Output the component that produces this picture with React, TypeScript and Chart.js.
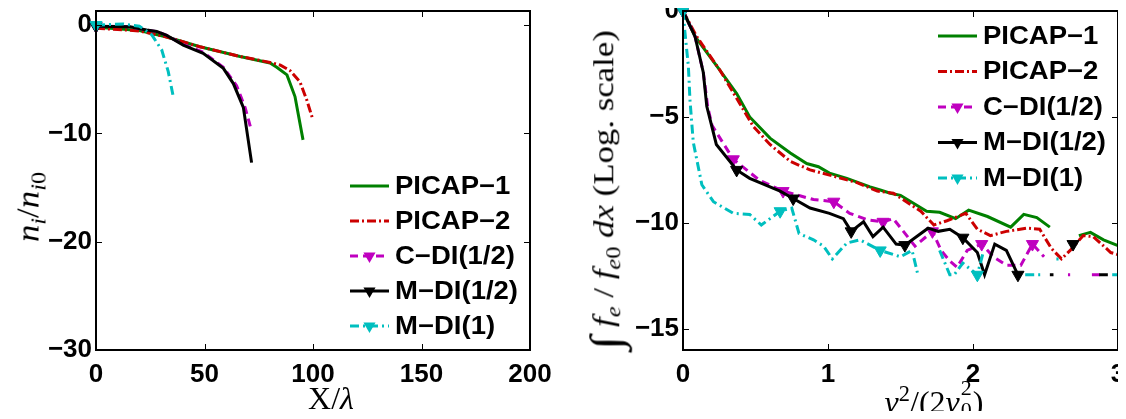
import React, { useEffect, useRef } from "react";
import { Chart, registerables } from "chart.js";
Chart.register(...registerables);

// ---------- series meta ----------
const SERIES_NAMES = ["PICAP\u22121", "PICAP\u22122", "C\u2212DI(1/2)", "M\u2212DI(1/2)", "M\u2212DI(1)"];
const SERIES_COLORS = ["#008000", "#cc0000", "#bf00bf", "#000000", "#00bfbf"];
const SERIES_DASH = [[], [9, 3, 2, 3], [8, 5], [], [9, 4, 2, 4]];
const SERIES_HAS_MARKER = [false, false, true, true, true];

// ---------- left panel: n_i/n_i0 vs X/lambda ----------
const L_X_TICKS = [0, 50, 100, 150, 200];
const L_Y_TICKS = [-30, -20, -10, 0];

const L1_X = [0, 10, 20, 32.6, 47.9, 66.4, 80.2, 83.3, 88, 91.7, 95.4];
const L1_Y = [-0.2, -0.35, -0.5, -1.1, -2.0, -2.9, -3.5, -3.9, -4.6, -6.6, -10.6];

const L2_X = [0, 10, 20, 32.6, 47.9, 66.4, 80.2, 85, 89.4, 94, 97.1, 99.9];
const L2_Y = [-0.3, -0.4, -0.55, -1.1, -2.0, -2.9, -3.45, -3.7, -4.2, -5.25, -6.9, -8.7];

const L3_X = [0, 15.7, 23.3, 28, 32.6, 40.2, 49.4, 58.7, 64.8, 68.7, 71.7];
const L3_Y = [-0.1, -0.15, -0.45, -0.6, -0.95, -1.8, -2.5, -3.9, -5.6, -7.6, -9.8];
const L3_MARK = [0];

const L4_X = [0, 15.7, 23.3, 28, 32.6, 40.2, 49.4, 58.7, 63.3, 67.9, 71.7];
const L4_Y = [-0.1, -0.15, -0.45, -0.6, -0.95, -1.85, -2.6, -4.0, -5.4, -7.6, -12.7];
const L4_MARK = [0];

const L5_X = [0, 12.5, 20, 25.7, 30.3, 33.3, 35.6];
const L5_Y = [0, 0.1, -0.1, -0.9, -2.3, -4.3, -6.6];
const L5_MARK = [0];

// ---------- right panel: int f_e/f_e0 dx (log) vs v^2/(2v0^2) ----------
const R_X_TICKS = [0, 1, 2, 3];
const R_Y_TICKS = [-15, -10, -5, 0];

const R1_X = [0, 0.083, 0.255, 0.37, 0.46, 0.6, 0.74, 0.853, 0.934, 1.01, 1.13, 1.29, 1.36, 1.43, 1.5, 1.68, 1.77, 1.88, 1.97, 2.1, 2.26, 2.35, 2.44, 2.53, 2.63, 2.73, 2.81, 2.9, 3.0];
const R1_Y = [0, -1.2, -2.8, -3.9, -5.0, -6.0, -6.7, -7.2, -7.35, -7.65, -7.9, -8.3, -8.45, -8.6, -8.7, -9.45, -9.5, -9.8, -9.4, -9.7, -10.2, -9.6, -9.75, -10.2, null, -10.6, -10.45, -10.8, -11.07];

const R2_X = [0, 0.094, 0.255, 0.39, 0.485, 0.6, 0.74, 0.876, 1.04, 1.2, 1.34, 1.45, 1.54, 1.64, 1.73, 1.82, 1.95, 2.03, 2.12, 2.23, 2.37, 2.46, 2.54, 2.61, 2.67, 2.76, 2.83, 2.95, 3.0];
const R2_Y = [0, -1.2, -2.8, -4.35, -5.45, -6.3, -7.1, -7.5, -7.8, -8.1, -8.5, -8.6, -9.0, -9.45, -10.1, -9.9, -9.55, -10.3, -10.6, -10.4, -10.25, -10.3, -11.2, -11.7, -11.3, -10.6, -10.65, -11.4, -11.5];

const R3_X = [0, 0.083, 0.14, 0.17, 0.2, 0.347, 0.53, 0.69, 0.9, 1.04, 1.15, 1.27, 1.38, 1.45, 1.52, 1.6, 1.72, 1.78, 1.84, 1.89, 1.96, 2.06, 2.14, 2.23, 2.33, 2.41, 2.49, 2.57, 2.655, 2.67, 2.75, 2.82, 2.9];
const R3_Y = [0, -1.2, -2.9, -4.5, -5.4, -7.0, -8.0, -8.5, -8.9, -9.0, -9.55, -9.85, -9.95, -9.8, -10.4, -11.1, -10.4, -11.3, -11.8, -12.1, -11.3, -11.0, -11.6, -12.0, -12.0, -11.0, -11.6, null, -12.45, -12.45, null, -12.45, -12.45];
const R3_MARK = [0, 5, 7, 9, 12, 16, 21, 25];

const R4_X = [0, 0.083, 0.14, 0.164, 0.23, 0.37, 0.46, 0.67, 0.76, 0.876, 1.01, 1.106, 1.16, 1.245, 1.31, 1.38, 1.47, 1.53, 1.69, 1.76, 1.84, 1.93, 2.03, 2.08, 2.15, 2.23, 2.31, 2.42, 2.53, 2.555, 2.62, 2.69, 2.78, 2.87, 2.93];
const R4_Y = [0, -1.2, -2.9, -4.5, -6.3, -7.5, -7.9, -8.5, -8.85, -9.3, -9.55, -9.8, -10.4, -9.95, -10.65, -10.2, -11.0, -11.05, -10.25, -10.4, -10.3, -10.7, -11.4, -12.45, -11.0, -11.3, -12.45, null, -12.45, -12.45, null, -11.0, null, -12.45, -12.45];
const R4_MARK = [0, 5, 8, 12, 17, 21, 26, 31];

const R5_X = [0, 0.014, 0.037, 0.048, 0.071, 0.13, 0.21, 0.347, 0.46, 0.54, 0.67, 0.75, 0.8, 0.9, 0.97, 1.03, 1.13, 1.22, 1.36, 1.5, 1.58, 1.62, 1.7, 1.77, 1.84, 1.87, 1.93, 2.03, 2.07, 2.2, 2.36, 2.48, 2.53, 2.575, 2.59, 2.75, 2.96, 3.0];
const R5_Y = [0, -1.05, -2.6, -4.2, -6.2, -8.2, -9.0, -9.55, -9.6, -10.1, -9.45, -9.3, -10.5, -10.8, -11.1, -11.7, -10.95, -10.8, -11.3, -11.6, -11.3, -12.45, null, -11.3, -12.45, -12.45, -11.9, -12.45, -11.4, null, -12.45, -12.45, null, -11.7, -11.7, null, -12.45, -12.45];
const R5_MARK = [0, 10, 18, 27];

// ---------- helpers ----------
const minusFmt = (v: number) => (v < 0 ? "\u2212" + Math.abs(v) : String(v));
const TICK_FONT = { family: "'Liberation Sans', Arial, sans-serif", size: 26, weight: "bold" as const };

function makeDataset(i: number, xs: number[], ys: (number | null)[], marks: number[]) {
  return {
    label: SERIES_NAMES[i],
    data: xs.map((x, k) => ({ x, y: ys[k] })),
    borderColor: SERIES_COLORS[i],
    backgroundColor: SERIES_COLORS[i],
    borderWidth: 3,
    borderDash: SERIES_DASH[i],
    pointStyle: "triangle",
    pointRotation: 180,
    pointRadius: (c: any) => (marks.includes(c.dataIndex) ? 7 : 0),
    pointBackgroundColor: SERIES_COLORS[i],
    pointBorderColor: SERIES_COLORS[i],
    pointBorderWidth: 1,
    tension: 0,
    spanGaps: false,
    clip: false as const,
    order: 10 - i,
    hasMarker: SERIES_HAS_MARKER[i],
  };
}

const legendPlugin = {
  id: "inLegend",
  afterDraw(chart: any, _args: any, opts: any) {
    const { ctx } = chart;
    ctx.save();
    chart.data.datasets.forEach((d: any, i: number) => {
      const y = opts.y0 + i * opts.dy;
      ctx.beginPath();
      ctx.setLineDash(d.borderDash || []);
      ctx.strokeStyle = d.borderColor;
      ctx.lineWidth = d.borderWidth;
      ctx.moveTo(opts.x1, y);
      ctx.lineTo(opts.x2, y);
      ctx.stroke();
      ctx.setLineDash([]);
      if (d.hasMarker) {
        const cx = (opts.x1 + opts.x2) / 2;
        const r = 7;
        ctx.beginPath();
        ctx.moveTo(cx, y + r);
        ctx.lineTo(cx - r * 0.866, y - r / 2);
        ctx.lineTo(cx + r * 0.866, y - r / 2);
        ctx.closePath();
        ctx.fillStyle = d.borderColor;
        ctx.fill();
      }
      ctx.save();
      ctx.translate(opts.tx, y + 1);
      ctx.scale(1.1, 1);
      ctx.fillStyle = "#000";
      ctx.font = "bold 25px 'Liberation Sans', Arial, sans-serif";
      ctx.textBaseline = "middle";
      ctx.textAlign = "left";
      ctx.fillText(d.label, 0, 0);
      ctx.restore();
    });
    ctx.restore();
  },
};

// axes box + inward ticks on all four sides, drawn last
const boxPlugin = {
  id: "axesBox",
  afterDraw(chart: any) {
    const { ctx, chartArea: a, scales } = chart;
    ctx.save();
    ctx.fillStyle = "#000000";
    ctx.fillRect(a.left - 1, a.top - 1, a.right - a.left + 2, 2);
    ctx.fillRect(a.left - 1, a.bottom - 1, a.right - a.left + 2, 2);
    ctx.fillRect(a.left - 1, a.top - 1, 2, a.bottom - a.top + 2);
    ctx.fillRect(a.right - 1, a.top - 1, 2, a.bottom - a.top + 2);
    const tl = 6;
    scales.x.ticks.forEach((t: any) => {
      const px = Math.round(scales.x.getPixelForValue(t.value));
      if (px <= a.left + 2 || px >= a.right - 2) return;
      ctx.fillRect(px, a.bottom - tl, 1, tl);
      ctx.fillRect(px, a.top, 1, tl);
    });
    scales.y.ticks.forEach((t: any) => {
      const py = Math.round(scales.y.getPixelForValue(t.value));
      if (py <= a.top + 2 || py >= a.bottom - 2) return;
      ctx.fillRect(a.left, py, tl, 1);
      ctx.fillRect(a.right - tl, py, tl, 1);
    });
    ctx.restore();
  },
};

function zeroPad(s: any) { s.paddingLeft = 0; s.paddingRight = 0; s.paddingTop = 0; s.paddingBottom = 0; }

function buildConfig(datasets: any[], xr: [number, number], yr: [number, number], xTicks: number[], yTicks: number[], yWidth: number, padRight: number, legend: any) {
  return {
    type: "line" as const,
    data: { datasets },
    plugins: [legendPlugin, boxPlugin],
    options: {
      animation: false as const,
      responsive: false,
      layout: { autoPadding: false, padding: { left: 0, top: 11, right: padRight, bottom: 0 } },
      plugins: { legend: { display: false }, tooltip: { enabled: false }, inLegend: legend },
      scales: {
        x: {
          type: "linear" as const, position: "bottom" as const,
          min: xr[0], max: xr[1],
          afterFit: (s: any) => { s.height = 69; zeroPad(s); },
          afterBuildTicks: (s: any) => { s.ticks = xTicks.map((v) => ({ value: v })); },
          grid: { display: false, drawTicks: false },
          border: { display: false },
          ticks: { color: "#000", font: TICK_FONT, padding: 9, maxRotation: 0, autoSkip: false, callback: (v: any) => minusFmt(Number(v)) },
        },
        y: {
          type: "linear" as const, position: "left" as const,
          min: yr[0], max: yr[1],
          afterFit: (s: any) => { s.width = yWidth; zeroPad(s); },
          afterBuildTicks: (s: any) => { s.ticks = yTicks.map((v) => ({ value: v })); },
          grid: { display: false, drawTicks: false },
          border: { display: false },
          ticks: { color: "#000", font: TICK_FONT, padding: 4, autoSkip: false, callback: (v: any) => minusFmt(Number(v)) },
        },
      },
    },
  };
}

const serif = "'Liberation Serif', 'Times New Roman', serif";
const subS: React.CSSProperties = { fontSize: "0.7em", verticalAlign: "-0.3em", lineHeight: 0 };
const supS: React.CSSProperties = { fontSize: "0.7em", verticalAlign: "0.5em", lineHeight: 0 };

export default function App() {
  const leftRef = useRef<HTMLCanvasElement>(null);
  const rightRef = useRef<HTMLCanvasElement>(null);

  useEffect(() => {
    const leftSets = [
      makeDataset(0, L1_X, L1_Y, []),
      makeDataset(1, L2_X, L2_Y, []),
      makeDataset(2, L3_X, L3_Y, L3_MARK),
      makeDataset(3, L4_X, L4_Y, L4_MARK),
      makeDataset(4, L5_X, L5_Y, L5_MARK),
    ];
    const rightSets = [
      makeDataset(0, R1_X, R1_Y, []),
      makeDataset(1, R2_X, R2_Y, []),
      makeDataset(2, R3_X, R3_Y, R3_MARK),
      makeDataset(3, R4_X, R4_Y, R4_MARK),
      makeDataset(4, R5_X, R5_Y, R5_MARK),
    ];
    const c1 = new Chart(leftRef.current as HTMLCanvasElement, buildConfig(leftSets, [0, 200], [-30, 1.3], L_X_TICKS, L_Y_TICKS, 96, 30, { x1: 350, x2: 389, tx: 395, y0: 186, dy: 35 }) as any);
    const c2 = new Chart(rightRef.current as HTMLCanvasElement, buildConfig(rightSets, [0, 3], [-16, 0], R_X_TICKS, R_Y_TICKS, 123, 8, { x1: 378, x2: 417, tx: 423, y0: 36, dy: 35.5 }) as any);
    return () => { c1.destroy(); c2.destroy(); };
  }, []);

  return (
    <div style={{ position: "relative", width: 1126, height: 419, margin: -8, background: "#fff" }}>
      <canvas ref={leftRef} width={560} height={419} style={{ position: "absolute", left: 0, top: 0, width: 560, height: 419 }} />
      <canvas ref={rightRef} width={566} height={419} style={{ position: "absolute", left: 560, top: 0, width: 566, height: 419 }} />

      <div style={{ position: "absolute", left: 28, top: 207, transform: "translate(-50%, -50%) rotate(-90deg) scaleX(1.12)", fontFamily: serif, fontSize: 31, whiteSpace: "nowrap", lineHeight: 1 }}>
        <i>n</i><sub style={subS}><i>i</i></sub>/<i>n</i><sub style={subS}><i>i</i>0</sub>
      </div>
      <div style={{ position: "absolute", left: 331, top: 398, transform: "translate(-50%, -50%)", fontFamily: serif, fontSize: 32, whiteSpace: "nowrap", lineHeight: 1 }}>
        X/<i>λ</i>
      </div>

      <div style={{ position: "absolute", left: 606, top: 190, transform: "translate(-50%, -50%) rotate(-90deg) scaleX(1.2)", fontFamily: serif, fontSize: 29, whiteSpace: "nowrap", lineHeight: 1 }}>
        <span style={{ fontSize: "1.5em", verticalAlign: "-0.15em" }}>∫</span>{" "}
        <i>f</i><sub style={subS}><i>e</i></sub> / <i>f</i><sub style={subS}><i>e</i>0</sub> <i>dx</i> (Log. scale)
      </div>
      <div style={{ position: "absolute", left: 934, top: 399, transform: "translate(-50%, -50%)", fontFamily: serif, fontSize: 32, whiteSpace: "nowrap", lineHeight: 1 }}>
        <i>v</i><sup style={supS}>2</sup>/(2<i>v</i>
        <span style={{ position: "relative", display: "inline-block", width: 13, height: 32 }}>
          <span style={{ position: "absolute", left: 1, top: -4, fontSize: 22, lineHeight: 1 }}>2</span>
          <span style={{ position: "absolute", left: 1, top: 18, fontSize: 22, lineHeight: 1 }}>0</span>
        </span>)
      </div>
    </div>
  );
}
